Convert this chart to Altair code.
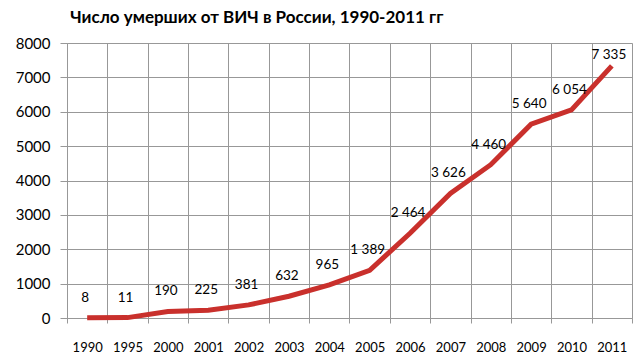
import altair as alt
import pandas as pd

years = ["1990", "1995", "2000", "2001", "2002", "2003", "2004", "2005",
         "2006", "2007", "2008", "2009", "2010", "2011"]
deaths = [8, 11, 190, 225, 381, 632, 965, 1389, 2464, 3626, 4460, 5640, 6054, 7335]
labels = ["8", "11", "190", "225", "381", "632", "965", "1 389", "2 464",
          "3 626", "4 460", "5 640", "6 054", "7 335"]

df = pd.DataFrame({"year": years, "deaths": deaths, "label": labels})

FONT = "Lato"
GRID = "#989898"
x = alt.X("year:O", sort=years, title=None,
          scale=alt.Scale(paddingInner=0, paddingOuter=0),
          axis=alt.Axis(labelAngle=0, labelFont=FONT, labelFontSize=13,
                        labelColor="black", labelPadding=18,
                        tickBand="extent", grid=True, gridColor=GRID,
                        gridWidth=1, domainColor=GRID, tickColor=GRID,
                        tickSize=5))
y = alt.Y("deaths:Q", title=None,
          scale=alt.Scale(domain=[0, 8000], nice=False),
          axis=alt.Axis(values=list(range(0, 8001, 1000)), format="d",
                        labelFont=FONT, labelFontSize=15, labelColor="black",
                        labelPadding=10, grid=True, gridColor=GRID,
                        gridWidth=1, domain=True, domainColor=GRID,
                        tickColor=GRID, tickSize=7))

base = alt.Chart(df)
line = base.mark_line(color="#C9302C", strokeWidth=5, strokeCap="butt").encode(x=x, y=y)
text = base.transform_filter(alt.datum.year != "2011").mark_text(
    font=FONT, fontSize=13.5, color="black", dy=-20, dx=-2, baseline="middle"
).encode(x=x, y=y, text="label:N")
text_last = base.transform_filter(alt.datum.year == "2011").mark_text(
    font=FONT, fontSize=13.5, color="black", dy=-11, dx=-3, baseline="middle"
).encode(x=x, y=y, text="label:N")

chart = alt.layer(line, text, text_last).properties(
    width=565, height=275,
    autosize=alt.AutoSizeParams(type="none"),
    padding={"left": 67, "top": 43, "right": 8, "bottom": 45},
    title=alt.TitleParams("Число умерших от ВИЧ в России, 1990-2011  гг",
                          font=FONT, fontSize=17, fontWeight="bold",
                          color="black", anchor="start", dx=55, dy=24, offset=16,
                          baseline="bottom"),
).configure_view(stroke=GRID, strokeWidth=1).configure(background="white")

chart.save("out.html", embed_options={"renderer": "svg", "actions": False})
